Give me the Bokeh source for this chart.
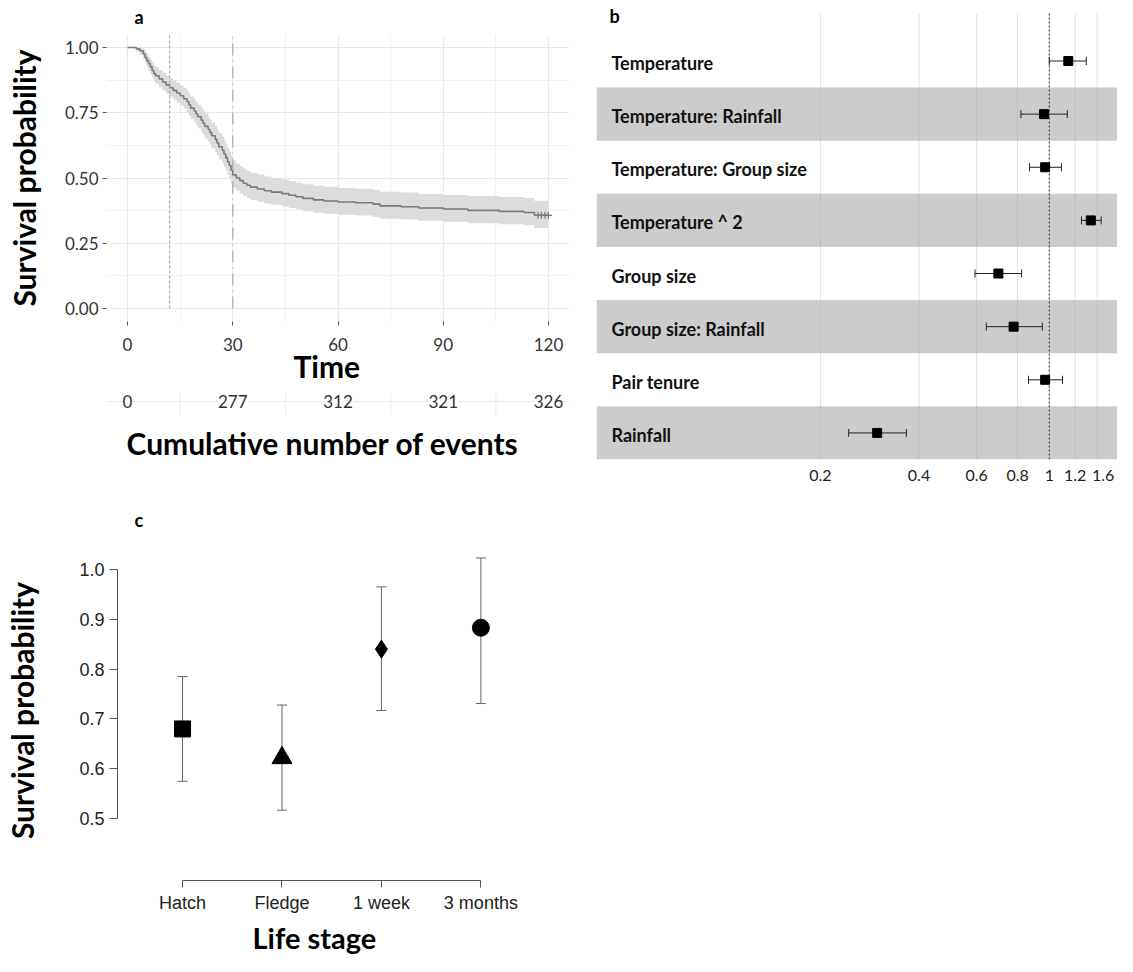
import math
from bokeh.plotting import figure
from bokeh.layouts import row, column
from bokeh.models import (Range1d, FixedTicker, Span, Label, LabelSet, ColumnDataSource,
                          Whisker, TeeHead, PrintfTickFormatter, Title)
from bokeh.embed import file_html
from bokeh.resources import INLINE
from bokeh.core.properties import value

# ------------------------------------------------------------------ data
# (a) Kaplan-Meier survival curve with confidence band
km_time = [0, 2.5, 3.5, 4.5, 5, 5.5, 6, 6.5, 7, 7.5, 8, 9, 10, 11, 12, 13, 14, 15, 16, 17,
           17.5, 18, 19, 19.5, 20, 21, 21.5, 22, 23, 23.5, 24, 25, 25.5, 26, 27, 27.5, 28,
           28.5, 29, 29.5, 30, 31, 32, 33, 34, 35, 37, 39, 41, 44, 46, 48, 50, 53, 56, 60,
           65, 70, 72, 78, 83, 90, 97, 106, 113, 116, 120]
km_surv = [1.000, 0.995, 0.988, 0.975, 0.962, 0.950, 0.938, 0.926, 0.912, 0.900, 0.892,
           0.880, 0.868, 0.857, 0.846, 0.836, 0.826, 0.815, 0.804, 0.792, 0.780, 0.768,
           0.757, 0.746, 0.735, 0.722, 0.710, 0.698, 0.686, 0.674, 0.662, 0.648, 0.634,
           0.620, 0.606, 0.592, 0.578, 0.562, 0.548, 0.530, 0.512, 0.500, 0.490, 0.480,
           0.472, 0.465, 0.458, 0.451, 0.446, 0.440, 0.434, 0.428, 0.422, 0.416, 0.412,
           0.408, 0.405, 0.400, 0.393, 0.390, 0.385, 0.381, 0.376, 0.372, 0.368, 0.357,
           0.357]
km_upper = [1.000, 1.000, 1.000, 0.993, 0.985, 0.976, 0.966, 0.955, 0.943, 0.932, 0.925,
            0.914, 0.903, 0.893, 0.883, 0.874, 0.865, 0.855, 0.845, 0.834, 0.823, 0.812,
            0.802, 0.791, 0.781, 0.769, 0.758, 0.747, 0.735, 0.724, 0.712, 0.699, 0.686,
            0.672, 0.659, 0.645, 0.632, 0.616, 0.602, 0.585, 0.567, 0.555, 0.545, 0.535,
            0.527, 0.520, 0.513, 0.506, 0.500, 0.494, 0.488, 0.482, 0.476, 0.470, 0.466,
            0.462, 0.459, 0.454, 0.447, 0.444, 0.439, 0.435, 0.431, 0.427, 0.423, 0.413,
            0.413]
km_lower = [1.000, 0.985, 0.972, 0.955, 0.940, 0.925, 0.911, 0.898, 0.883, 0.870, 0.861,
            0.848, 0.835, 0.823, 0.811, 0.800, 0.789, 0.777, 0.765, 0.752, 0.739, 0.727,
            0.715, 0.703, 0.691, 0.677, 0.665, 0.652, 0.639, 0.627, 0.614, 0.600, 0.585,
            0.571, 0.557, 0.543, 0.528, 0.512, 0.498, 0.480, 0.463, 0.451, 0.441, 0.431,
            0.423, 0.416, 0.409, 0.402, 0.397, 0.391, 0.385, 0.379, 0.373, 0.367, 0.363,
            0.359, 0.356, 0.351, 0.344, 0.341, 0.336, 0.332, 0.327, 0.323, 0.319, 0.308,
            0.308]
censor_time = [117, 118, 119, 120]
censor_surv = [0.357, 0.357, 0.357, 0.357]
marker_dashed = 12
marker_dotdash = 30
time_ticks = [0, 30, 60, 90, 120]
time_minor = [15, 45, 75, 105]
surv_ticks = [0.0, 0.25, 0.50, 0.75, 1.00]
surv_minor = [0.125, 0.375, 0.625, 0.875]
risk_time = [0, 30, 60, 90, 120]
risk_events = ["0", "277", "312", "321", "326"]

# (b) hazard ratios (forest plot)
hr_terms = ["Temperature", "Temperature: Rainfall", "Temperature: Group size",
            "Temperature ^ 2", "Group size", "Group size: Rainfall", "Pair tenure",
            "Rainfall"]
hr_est = [1.143, 0.964, 0.971, 1.339, 0.699, 0.778, 0.971, 0.298]
hr_lo = [1.000, 0.819, 0.870, 1.254, 0.593, 0.642, 0.864, 0.244]
hr_hi = [1.297, 1.135, 1.089, 1.440, 0.823, 0.952, 1.097, 0.366]
hr_grid = [0.2, 0.4, 0.6, 0.8, 1, 1.2, 1.4]
hr_ticks = [0.2, 0.4, 0.6, 0.8, 1, 1.2, 1.46]
hr_tick_labels = ["0.2", "0.4", "0.6", "0.8", "1", "1.2", "1.6"]
hr_reference = 1

# (c) survival by life stage
stages = ["Hatch", "Fledge", "1 week", "3 months"]
stage_surv = [0.680, 0.622, 0.840, 0.883]
stage_lo = [0.575, 0.517, 0.717, 0.731]
stage_hi = [0.785, 0.728, 0.965, 1.023]
stage_yticks = [0.5, 0.6, 0.7, 0.8, 0.9, 1.0]

# ------------------------------------------------------------------ styles
FONT = "Lato"
RFONT = "Liberation Sans"
stage_markers = ["square", "triangle", "diamond", "circle"]
stage_sizes = [16, 20, 18, 17]


def fig(**kw):
    f = figure(output_backend="svg", toolbar_location=None, title=None, **kw)
    f.outline_line_color = None
    f.background_fill_color = "white"
    f.border_fill_color = "white"
    return f


def lab(f, x, y, text, size, align="center"):
    f.add_layout(Label(x=x, y=y, x_units="screen", y_units="screen", text=text,
                       text_font=FONT, text_font_size=size, text_font_style="bold",
                       text_align=align, text_baseline="middle", text_color="black"))


def ttl(f, side, text, size, offset, valign, standoff):
    f.add_layout(Title(text=text, align="left", offset=offset, vertical_align=valign,
                       standoff=standoff, text_font=FONT, text_font_size=size,
                       text_font_style="bold", text_color="black"), side)


def ytitle(ax, text, standoff):
    ax.axis_label = text
    ax.axis_label_text_font = FONT
    ax.axis_label_text_font_size = "30px"
    ax.axis_label_text_font_style = "bold"
    ax.axis_label_text_color = "black"
    ax.axis_label_standoff = standoff


# ------------------------------------------------------------------ panel a (curve)
pa = fig(width=590, height=392, x_range=Range1d(-6, 126), y_range=Range1d(-0.05, 1.05),
         min_border_left=106, min_border_right=21, min_border_top=34, min_border_bottom=71)
pa.xaxis.ticker = FixedTicker(ticks=time_ticks, minor_ticks=time_minor)
pa.yaxis.ticker = FixedTicker(ticks=surv_ticks, minor_ticks=surv_minor)
pa.yaxis.formatter = PrintfTickFormatter(format="%.2f")
for ax in (pa.xaxis[0], pa.yaxis[0]):
    ax.axis_line_color = None
    ax.major_tick_line_color = "#555555"
    ax.major_tick_out = 4
    ax.major_tick_in = 0
    ax.minor_tick_line_color = None
    ax.major_label_text_font = FONT
    ax.major_label_text_font_size = "17px"
    ax.major_label_text_color = "#333333"
pa.yaxis.major_label_standoff = 4
pa.xaxis.major_label_standoff = 12
ytitle(pa.yaxis[0], "Survival probability", 20)
pa.grid.grid_line_color = "#e9e9e9"
pa.grid.minor_grid_line_color = "#f1f1f1"

pa.varea_step(x=km_time, y1=km_lower, y2=km_upper, step_mode="after",
              fill_color="#dcdcdc", fill_alpha=1.0)
pa.step(x=km_time, y=km_surv, mode="after", line_color="#7a7a7a", line_width=1.6)
pa.scatter(x=censor_time, y=censor_surv, marker="cross", size=7, line_color="#7a7a7a",
           line_width=1.2)
pa.segment(x0=[marker_dashed], y0=[surv_ticks[0]], x1=[marker_dashed], y1=[1.05],
           line_color="#a8a8a8", line_dash="3 2", line_width=1.2)
pa.segment(x0=[marker_dotdash], y0=[surv_ticks[0]], x1=[marker_dotdash], y1=[1.05],
           line_color="#a8a8a8", line_dash="12 5 1 5", line_width=1.2)
ttl(pa, "above", "a", "18px", 28, "top", 10)
ttl(pa, "below", "Time", "30px", 187, "top", -12)

# risk table
pa2 = fig(width=590, height=108, x_range=pa.x_range, y_range=Range1d(-4.125, 0.375),
          x_axis_location=None, y_axis_location=None,
          min_border_left=106, min_border_right=21, min_border_top=0, min_border_bottom=0)
pa2.grid.visible = False
pa2.add_layout(Span(location=0, dimension="width", line_color="#ebebeb", line_width=1,
                    level="underlay"))
pa2.segment(x0=time_minor, x1=time_minor, y0=-0.625, y1=0.375, line_color="#ebebeb",
            line_width=1)
risk_src = ColumnDataSource(dict(x=risk_time, t=risk_events))
pa2.add_layout(LabelSet(x="x", y=0, text="t", source=risk_src, text_align="center",
                        text_baseline="middle", text_font=value(FONT),
                        text_font_size="17px", text_color="#333333",
                        background_fill_color="white"))
lab(pa2, 20, 58, "Cumulative number of events", "30px", align="left")

# ------------------------------------------------------------------ panel b (forest)
rows = list(range(len(hr_terms)))
grid_top = -0.894
pb = fig(width=527, height=500, x_axis_type="log", x_range=Range1d(0.04141, 1.6154),
         y_range=Range1d(len(hr_terms) - 0.5, -1.1387), y_axis_location=None,
         min_border_left=6, min_border_right=0, min_border_top=0, min_border_bottom=41)
pb.grid.visible = False
pb.hbar(y=rows[1::2], height=1, left=1e-3, right=1e3, fill_color="#cccccc",
        line_color=None, level="image")
pb.segment(x0=hr_grid, x1=hr_grid, y0=grid_top, y1=len(hr_terms) - 0.5,
           line_color="#a8a8a8", line_alpha=0.35, line_width=1, level="underlay")
pb.segment(x0=[hr_reference], x1=[hr_reference], y0=grid_top, y1=len(hr_terms) - 0.5,
           line_color="#333333", line_dash="2 2", line_width=1)
pb.xaxis.ticker = FixedTicker(ticks=hr_ticks)
pb.xaxis.major_label_overrides = {t: s for t, s in zip(hr_ticks, hr_tick_labels)}
pb.xaxis.axis_line_color = None
pb.xaxis.major_tick_line_color = None
pb.xaxis.minor_tick_line_color = None
pb.xaxis.major_label_text_font = FONT
pb.xaxis.major_label_text_font_size = "16px"
pb.xaxis.major_label_text_color = "#222222"
pb.xaxis.major_label_standoff = 4
pb.text(x=0.046, y=rows, text=hr_terms, text_font=value(FONT), text_font_style="bold",
        text_font_size="18px", text_align="left", text_baseline="middle",
        text_color="#111111", y_offset=2)
hr_src = ColumnDataSource(dict(y=rows, est=hr_est, lo=hr_lo, hi=hr_hi))
pb.add_layout(Whisker(source=hr_src, base="y", lower="lo", upper="hi", dimension="width",
                      line_color="#222222", line_width=1,
                      upper_head=TeeHead(size=8, line_color="#222222", line_width=1),
                      lower_head=TeeHead(size=8, line_color="#222222", line_width=1)))
pb.scatter(x="est", y="y", source=hr_src, marker="square", size=9, color="black")
lab(pb, 18, 444, "b", "18px")

# ------------------------------------------------------------------ panel c (life stage)
xs = list(range(1, len(stages) + 1))
pc = fig(width=590, height=456, x_range=Range1d(0.346, 4.70), y_range=Range1d(0.376, 1.058),
         min_border_left=117, min_border_right=40, min_border_top=40, min_border_bottom=75)
pc.grid.visible = False
pc.xaxis.ticker = FixedTicker(ticks=xs)
pc.xaxis.major_label_overrides = {i: s for i, s in zip(xs, stages)}
pc.xaxis.bounds = (xs[0], xs[-1])
pc.yaxis.ticker = FixedTicker(ticks=stage_yticks)
pc.yaxis.bounds = (stage_yticks[0], stage_yticks[-1])
pc.yaxis.formatter = PrintfTickFormatter(format="%.1f")
for ax in (pc.xaxis[0], pc.yaxis[0]):
    ax.axis_line_color = "#555555"
    ax.major_tick_line_color = "#555555"
    ax.major_tick_in = 0
    ax.minor_tick_line_color = None
    ax.major_label_text_font = RFONT
    ax.major_label_text_font_size = "18px"
    ax.major_label_text_color = "#222222"
pc.xaxis.major_tick_out = 7
pc.yaxis.major_tick_out = 8
pc.xaxis.major_label_standoff = 5
pc.yaxis.major_label_standoff = 5
ytitle(pc.yaxis[0], "Survival probability", 36)
st_src = ColumnDataSource(dict(x=xs, y=stage_surv, lo=stage_lo, hi=stage_hi,
                               m=stage_markers, s=stage_sizes))
pc.add_layout(Whisker(source=st_src, base="x", lower="lo", upper="hi", dimension="height",
                      line_color="#666666", line_width=1,
                      upper_head=TeeHead(size=10, line_color="#666666", line_width=1),
                      lower_head=TeeHead(size=10, line_color="#666666", line_width=1)))
pc.scatter(x="x", y="y", source=st_src, marker="m", size="s", color="black")
ttl(pc, "above", "c", "18px", 17, "top", 16)
ttl(pc, "below", "Life stage", "29px", 135, "bottom", 4)

layout = column(row(column(pa, pa2), pb), pc)
open("out.html", "w").write(file_html(layout, INLINE))
